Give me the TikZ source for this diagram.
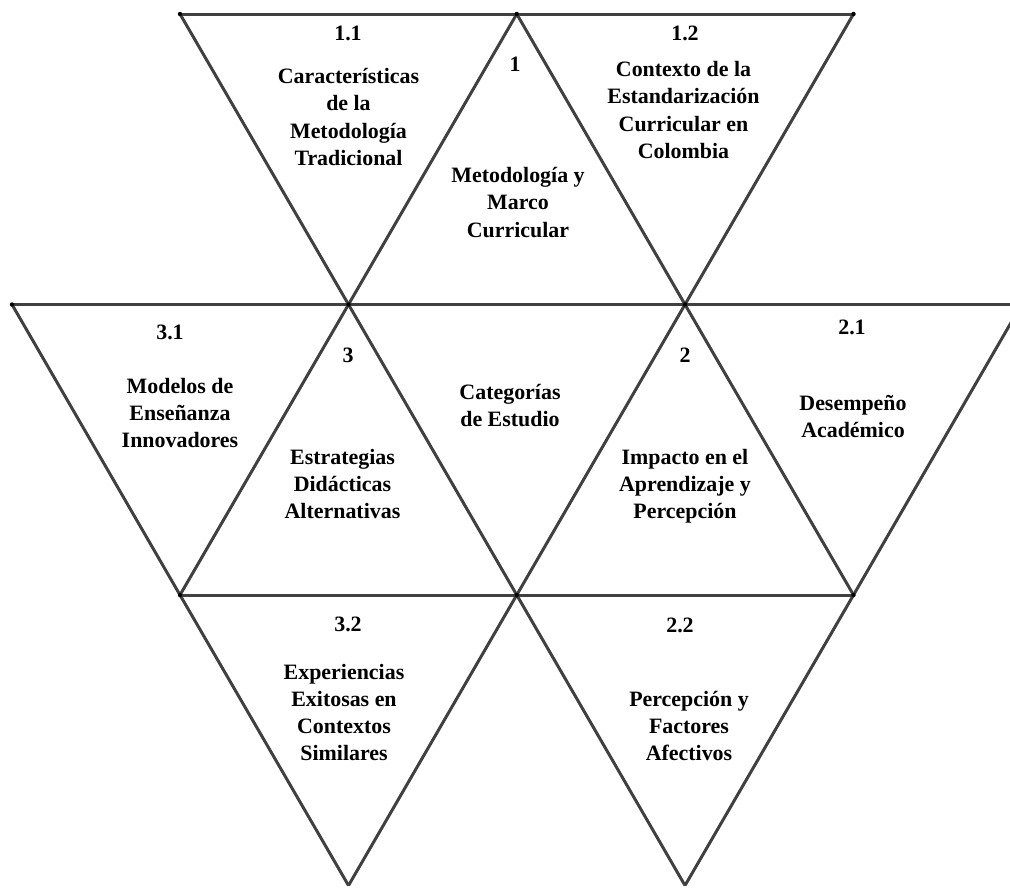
\documentclass[tikz,border=0pt]{standalone}
\usepackage{fontspec}
\setmainfont{Liberation Serif}
\usepackage{tikz}

\begin{document}
\begin{tikzpicture}[x=1bp,y=-1bp]
\tikzstyle{every node}+=[inner sep=0pt]
\tikzstyle{side}=[draw=black!75, line width=3bp, line join=round]
\tikzstyle{num}=[font=\bfseries\fontsize{22}{27.3}\selectfont]
\tikzstyle{lbl}=[font=\bfseries\fontsize{22}{27.3}\selectfont, align=center]
\useasboundingbox (0,0) rectangle (1010,888);
\clip (0,0) rectangle (1010,888);
% corners of the grid
\coordinate (a0) at (180,14);
\coordinate (a1) at (516.75,14);
\coordinate (a2) at (853.5,14);
\coordinate (b0) at (12,304.5);
\coordinate (b1) at (348.5,304.5);
\coordinate (b2) at (685,304.5);
\coordinate (b3) at (1021.5,304.5);
\coordinate (c0) at (180,595);
\coordinate (c1) at (516.75,595);
\coordinate (c2) at (853.5,595);
\coordinate (d0) at (348.5,885.5);
\coordinate (d1) at (685,885.5);
% sides
\draw [side] (a0) -- (a1) -- (a2);
\draw [side] (b0) -- (b1) -- (b2) -- (b3);
\draw [side] (c0) -- (c1) -- (c2);
\draw [side] (a0) -- (b1) -- (c1) -- (d1);
\draw [side] (a2) -- (b2) -- (c1) -- (d0);
\draw [side] (a1) -- (b1) -- (c0);
\draw [side] (a1) -- (b2) -- (c2);
\draw [side] (b0) -- (c0) -- (d0);
\draw [side] (b3) -- (c2) -- (d1);
% dots
\fill [black] (a0) circle (2.2bp);
\fill [black] (a1) circle (2.2bp);
\fill [black] (a2) circle (2.2bp);
\fill [black] (b0) circle (2.2bp);
\fill [black] (b1) circle (2.2bp);
\fill [black] (b2) circle (2.2bp);
\fill [black] (c0) circle (2.2bp);
\fill [black] (c1) circle (2.2bp);
\fill [black] (c2) circle (2.2bp);
% numbers
\node [num] (n11) at (348,33.5) {1.1};
\node [num] (n1) at (515,64.5) {1};
\node [num] (n12) at (685,33) {1.2};
\node [num] (n31) at (170,332) {3.1};
\node [num] (n3) at (348,355) {3};
\node [num] (n2) at (685,355) {2};
\node [num] (n21) at (852,327.5) {2.1};
\node [num] (n32) at (348,624.5) {3.2};
\node [num] (n22) at (680,625.5) {2.2};
% texts
\node [lbl] (t11) at (348.5,117) {Características\\de la\\Metodología\\Tradicional};
\node [lbl] (t1) at (518,202.5) {Metodología y\\Marco\\Curricular};
\node [lbl] (t12) at (683.5,110) {Contexto de la\\Estandarización\\Curricular en\\Colombia};
\node [lbl] (t31) at (180,413) {Modelos de\\Enseñanza\\Innovadores};
\node [lbl] (t3) at (342.5,484) {Estrategias\\Didácticas\\Alternativas};
\node [lbl] (tc) at (510,405.5) {Categorías\\de Estudio};
\node [lbl] (t2) at (685,486.5) {Impacto en el\\Aprendizaje y\\Percepción};
\node [lbl] (t21) at (853,416.5) {Desempeño\\Académico};
\node [lbl] (t32) at (344,712.5) {Experiencias\\Exitosas en\\Contextos\\Similares};
\node [lbl] (t22) at (689,726) {Percepción y\\Factores\\Afectivos};
\end{tikzpicture}
\end{document}
